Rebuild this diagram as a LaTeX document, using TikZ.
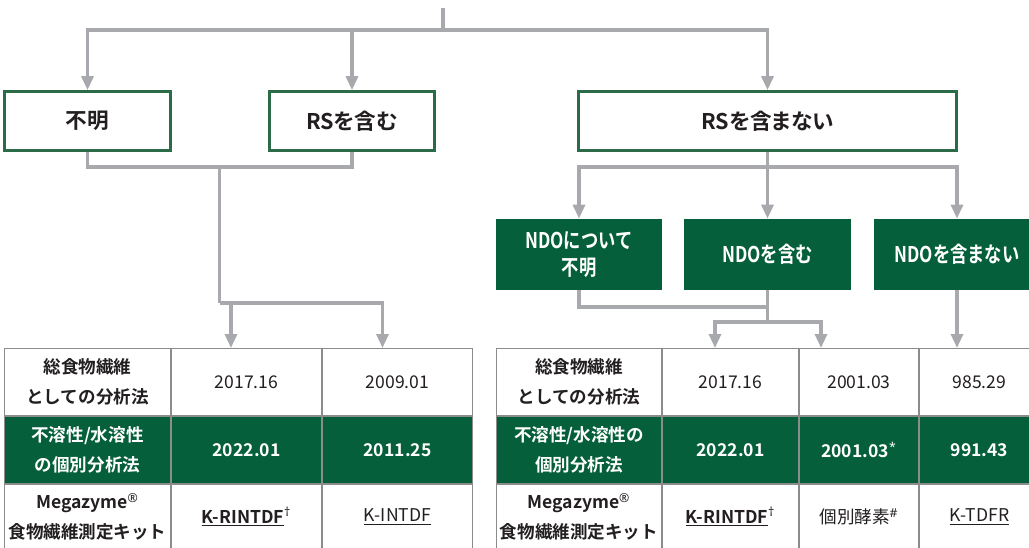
\documentclass[tikz,border=0pt]{standalone}
\usepackage{fontspec}
\setmainfont{Noto Sans CJK JP}[BoldFont={Noto Sans CJK JP Bold}]
\newfontfamily\boxfont{Noto Sans CJK JP Bold}[RawFeature=+palt]
\newfontfamily\narrowfont{Noto Sans CJK JP Bold}[FakeStretch=0.8]
\newfontfamily\symfont{Noto Sans}
\usetikzlibrary{arrows.meta}
\definecolor{linegray}{HTML}{A7A9AC}
\definecolor{gridgray}{HTML}{8C8C8C}
\definecolor{boxgreen}{HTML}{2C6B47}
\definecolor{darkgreen}{HTML}{055F3A}
\definecolor{ink}{HTML}{231F20}
\newcommand{\supmark}[1]{\textsuperscript{\symfont #1}}
\tikzstyle{choice} = [rectangle, draw=boxgreen, line width=0.055cm, fill=white, text=ink, font=\fontsize{12.3}{17}\boxfont, minimum height=1.18cm, inner sep=0pt, align=center]
\tikzstyle{subchoice} = [rectangle, fill=darkgreen, text=white, font=\fontsize{12.3}{15}\narrowfont, minimum width=3.32cm, minimum height=1.42cm, inner sep=0pt, align=center]
\tikzstyle{cell} = [rectangle, draw=gridgray, line width=0.02cm, fill=white, text=ink, font=\fontsize{10}{17}\selectfont, minimum height=1.36cm, inner sep=0pt, align=center]
\tikzstyle{headcell} = [cell, font=\fontsize{10}{17}\selectfont\bfseries]
\tikzstyle{greencell} = [cell, fill=darkgreen, text=white, font=\fontsize{10}{17}\selectfont\bfseries]
\tikzstyle{link} = [draw=linegray, line width=0.065cm]
\tikzstyle{arrow} = [link, -{Triangle[length=0.28cm, width=0.24cm]}]

\begin{document}
\begin{tikzpicture}[x=0.02cm, y=-0.02cm]
    \useasboundingbox (0,0) rectangle (1029,548);

    % Nodes
    \node (unk) [choice, minimum width=3.32cm] at (87.5,121) {不明};
    \node (rsin) [choice, minimum width=3.30cm] at (352,121) {RSを含む};
    \node (rsout) [choice, minimum width=7.56cm] at (767.5,121) {RSを含まない};
    \node (ndounk) [subchoice] at (579,254.5) {NDOについて\\不明};
    \node (ndoin) [subchoice, minimum width=3.34cm] at (767.5,254.5) {NDOを含む};
    \node (ndoout) [subchoice] at (957,254.5) {NDOを含まない};

    % Left table
    \node (L11) [headcell, minimum width=3.34cm] at (87.5,382) {総食物繊維\\としての分析法};
    \node (L12) [cell, minimum width=3.02cm] at (246.5,382) {2017.16};
    \node (L13) [cell, minimum width=3.02cm] at (397.5,382) {2009.01};
    \node (L21) [greencell, minimum width=3.34cm] at (87.5,450) {不溶性/水溶性\\の個別分析法};
    \node (L22) [greencell, minimum width=3.02cm] at (246.5,450) {2022.01};
    \node (L23) [greencell, minimum width=3.02cm] at (397.5,450) {2011.25};
    \node (L31) [headcell, minimum width=3.34cm, minimum height=1.32cm] at (87.5,517) {Megazyme\supmark{®}\\食物繊維測定キット};
    \node (L32) [headcell, minimum width=3.02cm, minimum height=1.32cm] at (246.5,517) {\underline{K-RINTDF}\supmark{†}};
    \node (L33) [cell, minimum width=3.02cm, minimum height=1.32cm] at (397.5,517) {\underline{K-INTDF}};

    % Right table
    \node (R11) [headcell, minimum width=3.32cm] at (579,382) {総食物繊維\\としての分析法};
    \node (R12) [cell, minimum width=2.74cm] at (730.5,382) {2017.16};
    \node (R13) [cell, minimum width=2.40cm] at (859,382) {2001.03};
    \node (R14) [cell, minimum width=2.42cm] at (979.5,382) {985.29};
    \node (R21) [greencell, minimum width=3.32cm] at (579,450) {不溶性/水溶性の\\個別分析法};
    \node (R22) [greencell, minimum width=2.74cm] at (730.5,450) {2022.01};
    \node (R23) [greencell, minimum width=2.40cm] at (859,450) {2001.03\supmark{*}};
    \node (R24) [greencell, minimum width=2.42cm] at (979.5,450) {991.43};
    \node (R31) [headcell, minimum width=3.32cm, minimum height=1.32cm] at (579,517) {Megazyme\supmark{®}\\食物繊維測定キット};
    \node (R32) [headcell, minimum width=2.74cm, minimum height=1.32cm] at (730.5,517) {\underline{K-RINTDF}\supmark{†}};
    \node (R33) [cell, minimum width=2.40cm, minimum height=1.32cm] at (859,517) {個別酵素\supmark{\#}};
    \node (R34) [cell, minimum width=2.42cm, minimum height=1.32cm] at (979.5,517) {\underline{K-TDFR}};

    % Junctions
    \coordinate (top) at (443,8);
    \coordinate (split) at (443,30);
    \coordinate (lj) at (219.5,167);
    \coordinate (lj2) at (219.5,303);
    \coordinate (rj) at (767.5,167);
    \coordinate (nj) at (767.5,307);
    \coordinate (nj2) at (767.5,322);
    \coordinate (toL2) at (231,348);
    \coordinate (toL3) at (382.5,348);
    \coordinate (toR2) at (715,348);
    \coordinate (toR3) at (821,348);
    \coordinate (toR4) at (957,348);

    % Arrows
    \draw [link] (top) -- (split);
    \draw [arrow] (split) -| (unk.north);
    \draw [arrow] (split) -| (rsin.north);
    \draw [arrow] (split) -| (rsout.north);

    \draw [link] (unk.south) |- (lj);
    \draw [link] (rsin.south) |- (lj);
    \draw [link] (lj) -- (lj2);
    \draw [arrow] (lj2) -| (toL2);
    \draw [arrow] (lj2) -| (toL3);

    \draw [link] (rsout.south) -- (rj);
    \draw [arrow] (rj) -| (ndounk.north);
    \draw [arrow] (rj) -- (ndoin.north);
    \draw [arrow] (rj) -| (ndoout.north);

    \draw [link] (ndounk.south) |- (nj);
    \draw [link] (ndoin.south) -- (nj2);
    \draw [arrow] (nj2) -| (toR2);
    \draw [arrow] (nj2) -| (toR3);
    \draw [arrow] (ndoout.south) -- (toR4);
\end{tikzpicture}
\end{document}
